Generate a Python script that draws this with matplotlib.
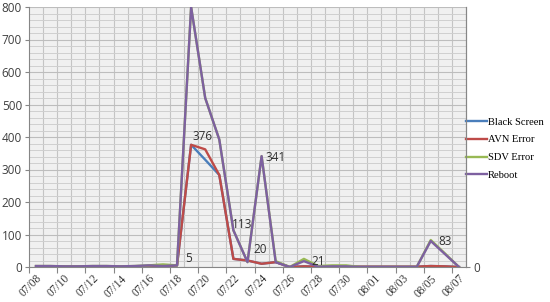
""" Daily error counts per type, Excel-style line chart. """
import numpy as np
import matplotlib
matplotlib.use("Agg")
import matplotlib.pyplot as plt
from matplotlib.ticker import MultipleLocator

dates = ["07/08", "07/09", "07/10", "07/11", "07/12", "07/13", "07/14", "07/15",
         "07/16", "07/17", "07/18", "07/19", "07/20", "07/21", "07/22", "07/23",
         "07/24", "07/25", "07/26", "07/27", "07/28", "07/29", "07/30", "07/31",
         "08/01", "08/02", "08/03", "08/04", "08/05", "08/06", "08/07"]

black_screen = [2, 2, 2, 2, 2, 2, 2, 2, 2, 2, 5, 376, 330, 283, 25, 20,
                10, 15, 0, 2, 1, 1, 1, 1, 1, 1, 1, 1, 3, 2, 0]
avn_error = [2, 2, 2, 2, 2, 2, 2, 2, 2, 2, 5, 376, 362, 283, 25, 20,
             10, 15, 0, 2, 1, 1, 1, 1, 1, 1, 1, 1, 3, 2, 0]
sdv_error = [3, 3, 2, 2, 3, 3, 2, 3, 5, 8, 5, 800, 520, 392, 113, 15,
             341, 18, 0, 25, 3, 5, 5, 0, 0, 0, 0, 0, 83, 42, 0]
reboot = [3, 3, 2, 2, 3, 3, 2, 3, 5, 3, 5, 800, 520, 392, 113, 15,
          341, 15, 0, 18, 1, 2, 2, 0, 0, 0, 0, 0, 80, 40, 0]

series_names = ["Black Screen", "AVN Error", "SDV Error", "Reboot"]
series_colors = ["#4A7EBB", "#BE4B48", "#98B954", "#7D60A0"]

# data labels: (category index, value, text)
point_labels = [(11, 376, "376"), (16, 341, "341"), (14, 113, "113"), (15, 20, "20"),
                (19, 21, "21"), (28, 83, "83"), (10, 5, "5")]
label_offsets = [(8, 6), (10, -1), (6, 4), (9, 8), (10, -1), (10, -1), (8, 5)]


def main():
    fig = plt.figure(figsize=(5.5, 3.02), dpi=100)
    ax = fig.add_axes([29 / 550, 1 - 267 / 302, 437 / 550, 260 / 302])
    ax.set_facecolor("#F0F0F0")

    x = np.arange(len(dates))
    for vals, name, col in zip([black_screen, avn_error, sdv_error, reboot],
                               series_names, series_colors):
        ax.plot(x, vals, color=col, lw=1.7, label=name, solid_joinstyle="round")

    ax.set_xlim(-0.5, len(dates) - 0.5)
    ax.set_ylim(0, 800)

    # vertical grid on category boundaries
    for b in np.arange(0.5, len(dates) - 0.5):
        ax.axvline(b, color="#C4C4C4", lw=0.8, zorder=0)

    ax.yaxis.set_major_locator(MultipleLocator(100))
    ax.yaxis.set_minor_locator(MultipleLocator(20))
    ax.grid(axis="y", which="major", color="#BDBDBD", lw=0.8, zorder=0)
    ax.grid(axis="y", which="minor", color="#CFCFCF", lw=0.7, zorder=0)
    ax.set_axisbelow(True)
    ax.tick_params(axis="y", which="major", length=3, color="#868686",
                   labelsize=8.5, labelcolor="#404040", pad=2)
    ax.tick_params(axis="y", which="minor", length=0)
    for t in ax.get_yticklabels():
        t.set_family("Open Sans")

    ax.set_xticks(np.arange(-0.5, len(dates), 2))
    ax.set_xticklabels([])
    ax.tick_params(axis="x", which="major", length=4, color="#868686")
    ax.set_xticks(x[::2], minor=True)
    ax.set_xticklabels(dates[::2], minor=True, rotation=45, ha="right",
                       rotation_mode="anchor", family="Liberation Serif",
                       fontsize=8.3, color="#383838")
    ax.tick_params(axis="x", which="minor", length=0, pad=4)

    ax.spines["top"].set_visible(False)
    for s in ["left", "bottom", "right"]:
        ax.spines[s].set_color("#868686")
        ax.spines[s].set_linewidth(0.8)

    for (i, v, txt), (dx, dy) in zip(point_labels, label_offsets):
        ax.annotate(txt, (i, v), xytext=(dx, dy), textcoords="offset points",
                    ha="center", va="center", fontsize=8.5, family="Open Sans",
                    color="#303030")

    ax2 = ax.twinx()
    ax2.set_ylim(0, 800)
    ax2.set_yticks([0])
    ax2.tick_params(axis="y", length=3, color="#868686", labelsize=8.5,
                    labelcolor="#404040", pad=2)
    for t in ax2.get_yticklabels():
        t.set_family("Open Sans")
    for s in ["top", "left", "bottom"]:
        ax2.spines[s].set_visible(False)
    ax2.spines["right"].set_color("#868686")
    ax2.spines["right"].set_linewidth(0.8)

    ax.legend(loc="center left", bbox_to_anchor=(1.0, 0.455), frameon=False,
              handlelength=2.0, handletextpad=0.1, labelspacing=0.8,
              borderaxespad=0, borderpad=0,
              prop={"family": "Liberation Serif", "size": 7.6})

    fig.savefig("out.png", dpi=100)


if __name__ == "__main__":
    main()
